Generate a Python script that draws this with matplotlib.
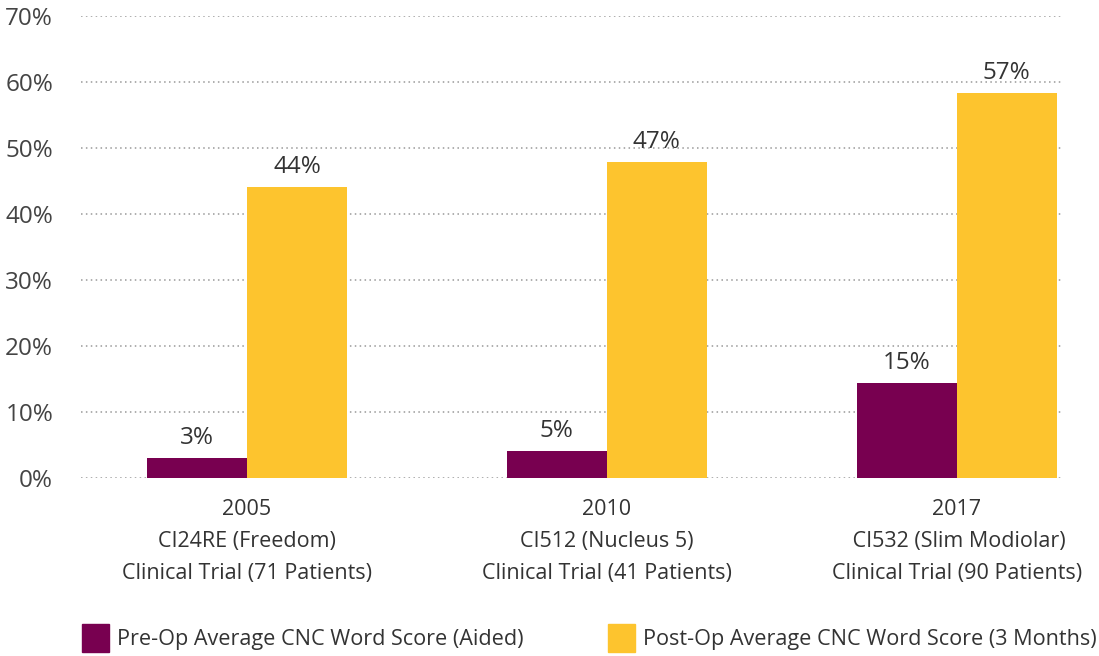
import matplotlib
matplotlib.use("Agg")
import matplotlib.pyplot as plt
from matplotlib.patches import Rectangle

plt.rcParams['font.family'] = ['Open Sans', 'DejaVu Sans']

# ---- data ----
categories = [
    "2005\nCI24RE (Freedom)\nClinical Trial (71 Patients)",
    "2010\nCI512 (Nucleus 5)\nClinical Trial (41 Patients)",
    "2017\n CI532 (Slim Modiolar)\nClinical Trial (90 Patients)",
]
series_names = ["Pre-Op Average CNC Word Score (Aided)",
                "Post-Op Average CNC Word Score (3 Months)"]
pre_op = [3.0, 4.1, 14.4]
post_op = [44.1, 47.9, 58.3]
pre_labels = ["3%", "5%", "15%"]
post_labels = ["44%", "47%", "57%"]
yticks = [0, 10, 20, 30, 40, 50, 60, 70]
ytick_labels = ["0%", "10%", "20%", "30%", "40%", "50%", "60%", "70%"]

# ---- style / layout ----
c_pre = "#780050"
c_post = "#FDC42E"
txt = "#333333"
group_pos = [0.0, 1.0, 1.972]
bw = 0.2778

W, H = 1099, 656
fig = plt.figure(figsize=(W / 100, H / 100), dpi=100)
ax = fig.add_axes([81 / W, 1 - 478 / H, (1063 - 81) / W, (478 - 16) / H])

ax.bar([p - bw / 2 for p in group_pos], pre_op, width=bw, color=c_pre, zorder=3)
ax.bar([p + bw / 2 for p in group_pos], post_op, width=bw, color=c_post, zorder=3)

for p, v, l in zip(group_pos, pre_op, pre_labels):
    ax.annotate(l, (p - bw / 2, v), xytext=(0, 6), textcoords="offset points",
                ha="center", va="bottom", fontsize=17.5, color=txt)
for p, v, l in zip(group_pos, post_op, post_labels):
    ax.annotate(l, (p + bw / 2, v), xytext=(0, 6), textcoords="offset points",
                ha="center", va="bottom", fontsize=17.5, color=txt)

ax.set_xlim(-0.461, 2.267)
ax.set_ylim(0, 70)
ax.set_yticks(yticks)
ax.set_yticklabels(ytick_labels, fontsize=17.5, color="#444444")
ax.set_xticks(group_pos)
ax.set_xticklabels(categories, fontsize=15.5, color=txt, linespacing=1.68)
ax.tick_params(axis="y", length=0, pad=20)
ax.tick_params(axis="x", length=0, pad=15)
ax.grid(axis="y", linestyle=(0, (1, 2.2)), color="#999999", linewidth=1.1, zorder=0)
for s in ax.spines.values():
    s.set_visible(False)

# legend
for x0, col, name in [(82, c_pre, series_names[0]), (608, c_post, series_names[1])]:
    fig.patches.append(Rectangle((x0 / W, 1 - 652 / H), 27 / W, 28 / H,
                                 transform=fig.transFigure, color=col))
    fig.text((x0 + 35) / W, 1 - 639 / H, name, fontsize=15.6, color=txt,
             ha="left", va="center")

fig.savefig("out.png", dpi=100)
